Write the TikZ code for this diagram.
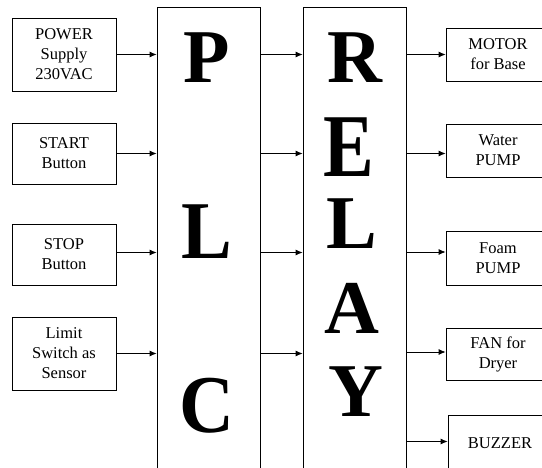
\documentclass[tikz,border=0pt]{standalone}
\usepackage{fontspec}
\setmainfont{Liberation Serif}
\usepackage{graphicx}
\usetikzlibrary{arrows.meta}
\begin{document}
\begin{tikzpicture}[x=1pt,y=-1pt,
 box/.style={draw,line width=0.8pt,minimum width=104pt,align=center,inner sep=0pt,font=\fontsize{16.5}{20}\selectfont},
 bigbox/.style={draw,line width=0.8pt,minimum width=103pt,minimum height=473pt,inner sep=0pt},
 letter/.style={anchor=base,inner sep=0pt,font=\fontsize{76}{76}\selectfont\bfseries},
 arr/.style={line width=0.8pt,-{Latex[length=7pt,width=6pt]}}]
\useasboundingbox (0,0) rectangle (542,468);
\clip (0,0) rectangle (542,468);
% big blocks
\node[bigbox] (plc) at (208.5,243.5) {};
\node[bigbox] (relay) at (354.5,243.5) {};
% letters
\node[letter] (lP) at (207,83) {P};
\node[letter] (lL) at (207,259) {\scalebox{1}[1.08]{L}};
\node[letter] (lC) at (207,432) {\scalebox{1}[1.08]{C}};
\node[letter] (rR) at (355,83) {R};
\node[letter] (rE) at (349,177) {\scalebox{1}[1.18]{E}};
\node[letter] (rL) at (352,249) {L};
\node[letter] (rA) at (352,334) {A};
\node[letter] (rY) at (356,417) {Y};
% inputs
\node[box,minimum height=73pt] (pwr) at (64,54.5) {POWER\\Supply\\230VAC};
\node[box,minimum height=61pt] (start) at (64,153.5) {START\\Button};
\node[box,minimum height=61pt] (stop) at (64,254.5) {STOP\\Button};
\node[box,minimum height=73pt] (lim) at (64,353.5) {Limit\\Switch as\\Sensor};
% outputs
\node[box,minimum height=53pt] (motor) at (498,54.5) {MOTOR\\for Base};
\node[box,minimum height=53pt] (water) at (498,150.5) {Water\\PUMP};
\node[box,minimum height=54pt] (foam) at (498,258) {Foam\\PUMP};
\node[box,minimum height=52pt] (fan) at (498,354) {FAN for\\Dryer};
\node[box,minimum height=56pt] (buzz) at (500,443) {BUZZER};
% input arrows
\draw[arr] (pwr.east) -- (pwr.east -| plc.west);
\draw[arr] (start.east) -- (start.east -| plc.west);
\draw[arr] ([yshift=2pt]stop.east) -- ([yshift=2pt]stop.east -| plc.west);
\draw[arr] (lim.east) -- (lim.east -| plc.west);
% plc to relay
\draw[arr] (plc.east |- pwr.east) -- (relay.west |- pwr.east);
\draw[arr] (plc.east |- start.east) -- (relay.west |- start.east);
\draw[arr] ([yshift=2pt]plc.east |- stop.east) -- ([yshift=2pt]relay.west |- stop.east);
\draw[arr] (plc.east |- lim.east) -- (relay.west |- lim.east);
% outputs
\draw[arr] (relay.east |- motor.west) -- (motor.west);
\draw[arr] ([yshift=-3pt]relay.east |- water.west) -- ([yshift=-3pt]water.west);
\draw[arr] ([yshift=6pt]relay.east |- foam.west) -- ([yshift=6pt]foam.west);
\draw[arr] ([yshift=2pt]relay.east |- fan.west) -- ([yshift=2pt]fan.west);
\draw[arr] ([yshift=1.5pt]relay.east |- buzz.west) -- ([yshift=1.5pt]buzz.west);
\end{tikzpicture}
\end{document}
